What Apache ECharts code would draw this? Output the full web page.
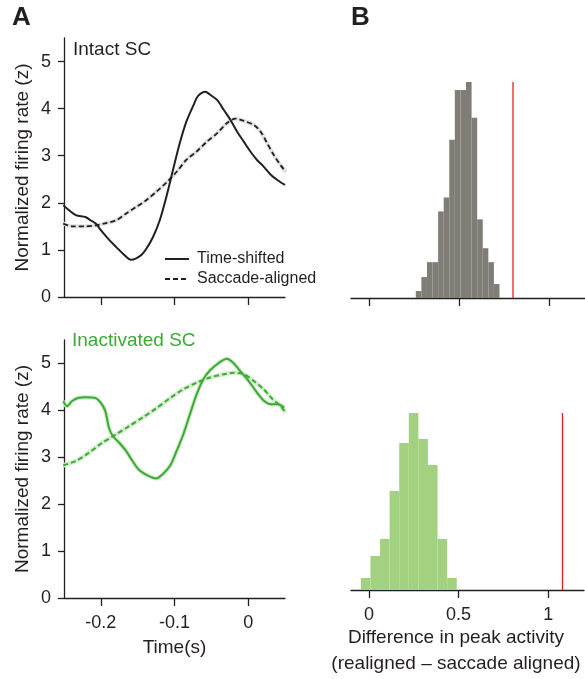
<!DOCTYPE html>
<html><head><meta charset="utf-8">
<script src="https://cdn.jsdelivr.net/npm/echarts@6/dist/echarts.min.js"></script>
<style>html,body{margin:0;padding:0;background:#fff}#c{width:585px;height:679px}</style>
</head><body><div id="c"></div>
<script>
// ---- Data ----
const intactShiftedT = [-0.251,-0.246,-0.234,-0.221,-0.214,-0.207,-0.2,-0.189,-0.179,-0.170,-0.159,-0.152,-0.145,-0.138,-0.129,-0.120,-0.111,-0.102,-0.093,-0.084,-0.074,-0.068,-0.058,-0.052,-0.042,-0.033,-0.024,-0.015,-0.006,0.003,0.012,0.021,0.031,0.040,0.050];
const intactShiftedV = [1.95,1.88,1.74,1.70,1.63,1.56,1.42,1.22,1.06,0.92,0.79,0.82,0.89,1.03,1.28,1.63,2.13,2.70,3.26,3.72,4.08,4.27,4.36,4.30,4.18,3.97,3.76,3.51,3.30,3.09,2.91,2.77,2.59,2.48,2.38];
const intactAlignedT = [-0.251,-0.239,-0.221,-0.207,-0.193,-0.179,-0.166,-0.152,-0.138,-0.125,-0.111,-0.097,-0.084,-0.070,-0.056,-0.042,-0.029,-0.017,-0.006,0.008,0.017,0.026,0.035,0.044,0.051];
const intactAlignedV = [1.56,1.50,1.50,1.52,1.57,1.63,1.77,1.91,2.06,2.23,2.43,2.66,2.91,3.09,3.30,3.48,3.69,3.79,3.74,3.65,3.51,3.26,3.01,2.80,2.66];
const inactShiftedT = [-0.251,-0.246,-0.239,-0.230,-0.221,-0.207,-0.2,-0.194,-0.189,-0.184,-0.175,-0.166,-0.157,-0.148,-0.136,-0.125,-0.116,-0.106,-0.097,-0.088,-0.079,-0.070,-0.061,-0.052,-0.040,-0.029,-0.020,-0.011,0.001,0.012,0.021,0.031,0.040,0.049];
const inactShiftedV = [4.20,4.09,4.20,4.27,4.28,4.26,4.16,3.99,3.63,3.46,3.31,3.14,2.92,2.73,2.61,2.55,2.64,2.82,3.14,3.49,3.92,4.34,4.66,4.85,5.01,5.10,5.01,4.84,4.62,4.38,4.21,4.13,4.13,4.06];
const inactAlignedT = [-0.251,-0.234,-0.216,-0.198,-0.179,-0.161,-0.143,-0.125,-0.106,-0.088,-0.070,-0.052,-0.033,-0.020,-0.006,0.008,0.021,0.033,0.044,0.051];
const inactAlignedV = [2.83,2.92,3.10,3.31,3.49,3.67,3.85,4.04,4.26,4.45,4.59,4.70,4.77,4.80,4.77,4.62,4.45,4.24,4.09,3.95];

const timeTicks = [-0.2,-0.1,0];
const rateTicks = [0,1,2,3,4,5];
const diffTicks = [0,0.5,1];

// Histogram B top (intact): bin start, bin width, counts
const intactBinStart = 0.26, intactBinWidth = 0.031;
const intactCounts = [7,21,36,36,87,101,159,209,209,217,181,79,50,36,14];
const intactObserved = 0.80;
// Histogram B bottom (inactivated)
const inactBinStart = -0.045, inactBinWidth = 0.0535;
const inactCounts = [12,34,51,99,147,177,151,125,51,12];
const inactObserved = 1.08;

const legendNames = ['Time-shifted','Saccade-aligned'];
const diffTitle = ['Difference in peak activity', '(realigned \u2013 saccade aligned)'];

// ---- Build ----
const TXT = '#231f20';
const FONT = '"Liberation Sans", Arial, Helvetica, sans-serif';
const BLACK = '#231f20', GREEN = '#3aaa35', GREY = '#807c76', LGREEN = '#a2d280', RED = '#ec1c24';
const zip = (a,b)=>a.map((x,i)=>[x,b[i]]);
const bins = (start,w,counts)=>counts.map((c,i)=>[start+i*w, start+(i+1)*w, c]);

function histRender(color){
  return function(params, api){
    const p0 = api.coord([api.value(0), api.value(2)]);
    const p1 = api.coord([api.value(1), 0]);
    return {type:'rect', shape:{x:p0[0], y:p0[1], width:p1[0]-p0[0], height:p1[1]-p0[1]},
      style:{fill:color, stroke:null}};
  };
}

const axLine = {show:true, onZero:false, lineStyle:{color:TXT, width:1.3}};
const lbl = {color:TXT, fontSize:18, fontFamily:FONT};
const nameStyle = {color:TXT, fontSize:19, fontFamily:FONT};

const timeAxis = (gi, labels) => ({
  type:'value', gridIndex:gi, min:-0.25, max:0.05,
  axisLine:axLine, splitLine:{show:false},
  axisTick:{show:true, length:8, customValues:timeTicks, lineStyle:{color:TXT,width:1.3}},
  axisLabel: labels ? Object.assign({show:true, margin:16, customValues:timeTicks,
      formatter:v=> v===0 ? '0' : String(v)}, lbl) : {show:false},
  name: labels ? 'Time(s)' : '', nameLocation:'middle', nameGap:40,
  nameTextStyle:nameStyle
});
const rateAxis = gi => ({
  type:'value', gridIndex:gi, min:0, max:5.5,
  axisLine:axLine, splitLine:{show:false},
  axisTick:{show:true, length:6, customValues:rateTicks, lineStyle:{color:TXT,width:1.3}},
  axisLabel:Object.assign({margin:13, customValues:rateTicks}, lbl),
  name:'Normalized firing rate (z)', nameLocation:'middle', nameGap:32,
  nameTextStyle:nameStyle
});
const diffAxis = (gi, labels) => ({
  type:'value', gridIndex:gi, min:-0.1, max:1.2,
  axisLine:axLine, splitLine:{show:false},
  axisTick:{show:true, length:8, customValues:diffTicks, lineStyle:{color:TXT,width:1.3}},
  axisLabel: labels ? Object.assign({show:true, margin:16, customValues:diffTicks}, lbl) : {show:false}
});
const countAxis = gi => ({type:'value', gridIndex:gi, min:0, max:'dataMax', show:false});

const option = {
  animation:false,
  textStyle:{fontFamily:FONT},
  grid:[
    {left:64, top:38, width:221, height:259, outerBoundsMode:'none', containLabel:false},
    {left:64, top:340, width:221, height:258, outerBoundsMode:'none', containLabel:false},
    {left:351, top:82, width:234, height:216, outerBoundsMode:'none', containLabel:false},
    {left:351, top:413, width:233, height:177, outerBoundsMode:'none', containLabel:false}
  ],
  xAxis:[timeAxis(0,false), timeAxis(1,true), diffAxis(2,false), diffAxis(3,true)],
  yAxis:[rateAxis(0), rateAxis(1), countAxis(2), countAxis(3)],
  graphic:[
    {type:'text', left:12, top:5, style:{text:'A', font:'bold 26px '+FONT, fill:TXT}},
    {type:'text', left:351, top:5, style:{text:'B', font:'bold 26px '+FONT, fill:TXT}},
    {type:'text', left:73, top:40, style:{text:'Intact SC', font:'19px '+FONT, fill:TXT}},
    {type:'text', left:72, top:331, style:{text:'Inactivated SC', font:'19px '+FONT, fill:GREEN}},
    {type:'text', x:456, y:638, style:{text:diffTitle[0], font:'19px '+FONT, fill:TXT, align:'center', verticalAlign:'middle'}},
    {type:'text', x:456, y:664, style:{text:diffTitle[1], font:'19px '+FONT, fill:TXT, align:'center', verticalAlign:'middle'}},
    // legend keys
    {type:'line', shape:{x1:165, y1:259, x2:189, y2:259}, style:{stroke:BLACK, lineWidth:2}},
    {type:'line', shape:{x1:165, y1:279, x2:189, y2:279}, style:{stroke:BLACK, lineWidth:2, lineDash:[5,3]}},
    {type:'text', x:197, y:259, style:{text:legendNames[0], font:'16px '+FONT, fill:TXT, verticalAlign:'middle'}},
    {type:'text', x:197, y:279, style:{text:legendNames[1], font:'16px '+FONT, fill:TXT, verticalAlign:'middle'}}
  ],
  series:[
    {type:'line', name:'band', xAxisIndex:0, yAxisIndex:0, data:zip(intactAlignedT,intactAlignedV),
      symbol:'none', smooth:0.3, lineStyle:{color:'#e2e2e2', width:4}, silent:true},
    {type:'line', name:legendNames[0], xAxisIndex:0, yAxisIndex:0, data:zip(intactShiftedT,intactShiftedV),
      symbol:'none', smooth:0.3, lineStyle:{color:BLACK, width:2}},
    {type:'line', name:legendNames[1], xAxisIndex:0, yAxisIndex:0, data:zip(intactAlignedT,intactAlignedV),
      symbol:'none', smooth:0.3, lineStyle:{color:BLACK, width:1.8, type:[5,3]}},
    {type:'line', name:'bandG1', xAxisIndex:1, yAxisIndex:1, data:zip(inactShiftedT,inactShiftedV),
      symbol:'none', smooth:0.3, lineStyle:{color:'#d6edcf', width:4.5}, silent:true},
    {type:'line', name:'bandG2', xAxisIndex:1, yAxisIndex:1, data:zip(inactAlignedT,inactAlignedV),
      symbol:'none', smooth:0.3, lineStyle:{color:'#d6edcf', width:4.5}, silent:true},
    {type:'line', name:'gShift', xAxisIndex:1, yAxisIndex:1, data:zip(inactShiftedT,inactShiftedV),
      symbol:'none', smooth:0.3, lineStyle:{color:GREEN, width:2}},
    {type:'line', name:'gAlign', xAxisIndex:1, yAxisIndex:1, data:zip(inactAlignedT,inactAlignedV),
      symbol:'none', smooth:0.3, lineStyle:{color:GREEN, width:2, type:[5,3]}},
    {type:'custom', xAxisIndex:2, yAxisIndex:2, renderItem:histRender(GREY),
      data:bins(intactBinStart,intactBinWidth,intactCounts), encode:{x:[0,1], y:2}},
    {type:'line', xAxisIndex:2, yAxisIndex:2, symbol:'none',
      data:[[intactObserved,0],[intactObserved,Math.max(...intactCounts)]], lineStyle:{color:RED, width:1.3}},
    {type:'custom', xAxisIndex:3, yAxisIndex:3, renderItem:histRender(LGREEN),
      data:bins(inactBinStart,inactBinWidth,inactCounts), encode:{x:[0,1], y:2}},
    {type:'line', xAxisIndex:3, yAxisIndex:3, symbol:'none',
      data:[[inactObserved,0],[inactObserved,Math.max(...inactCounts)]], lineStyle:{color:RED, width:1.3}}
  ]
};
const chart = echarts.init(document.getElementById('c'), null, {renderer:'canvas'});
chart.setOption(option);
</script></body></html>
